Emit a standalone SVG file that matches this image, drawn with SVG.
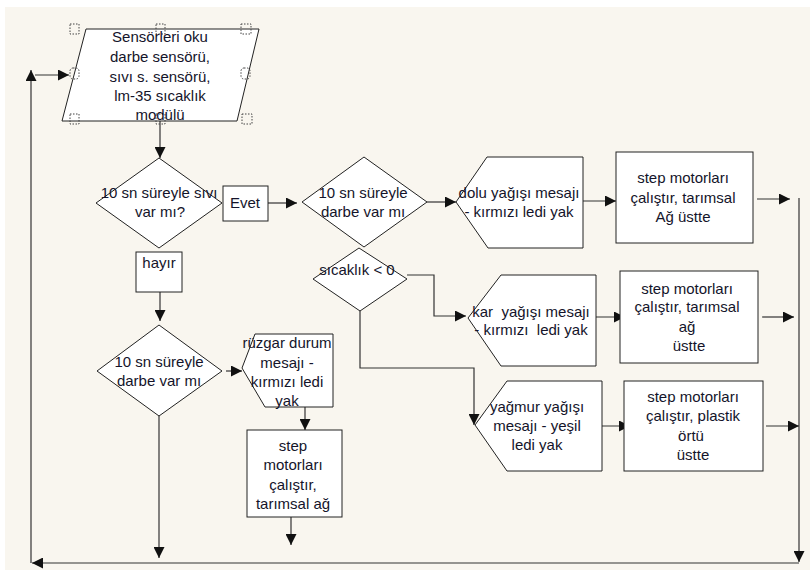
<svg xmlns="http://www.w3.org/2000/svg" width="810" height="570" viewBox="0 0 810 570">
<defs>
<marker id="ah" markerUnits="userSpaceOnUse" markerWidth="12" markerHeight="11" refX="11" refY="5.5" orient="auto">
<path d="M0,0 L11,5.5 L0,11 z" fill="#111"/>
</marker>
<style>
.shape{fill:#fff;stroke:#222;stroke-width:1}
.conn{fill:none;stroke:#333;stroke-width:1.2}
.arr{marker-end:url(#ah)}
.t{font-family:"Liberation Sans",Arial,sans-serif;font-size:15px;fill:#14142a;text-anchor:middle;white-space:pre}
.h{fill:none;stroke:#444;stroke-width:1;stroke-dasharray:1.5,1.5}
</style>
</defs>
<rect x="0" y="0" width="810" height="570" fill="#fff"/>
<rect x="5" y="7" width="805" height="563" fill="#f9f6ef"/>

<g id="connectors">
<line class="conn arr" x1="160" y1="121" x2="160" y2="158"/>
<line class="conn arr" x1="31" y1="563" x2="31" y2="70"/>
<line class="conn arr" x1="35" y1="75" x2="69" y2="75"/>
<line class="conn arr" x1="268" y1="203" x2="297" y2="203"/>
<line class="conn arr" x1="160" y1="292" x2="160" y2="321"/>
<line class="conn arr" x1="226" y1="371" x2="242" y2="371"/>
<line class="conn arr" x1="305" y1="404" x2="305" y2="430"/>
<line class="conn arr" x1="291" y1="517" x2="291" y2="545"/>
<line class="conn arr" x1="159" y1="416" x2="159" y2="558"/>
<line class="conn arr" x1="799" y1="563" x2="32" y2="563"/>
<line class="conn arr" x1="799" y1="198" x2="799" y2="562"/>
<line class="conn arr" x1="427" y1="202" x2="456" y2="202"/>
<line class="conn arr" x1="583" y1="201" x2="616" y2="201"/>
<line class="conn arr" x1="757" y1="199" x2="790" y2="199"/>
<polyline class="conn arr" points="407,275 434,275 434,316 466,316"/>
<line class="conn arr" x1="592" y1="317" x2="625" y2="317"/>
<line class="conn arr" x1="762" y1="317" x2="794" y2="317"/>
<polyline class="conn arr" points="360,311 360,368 474,368 474,425"/>
<line class="conn arr" x1="597" y1="426" x2="630" y2="426"/>
<line class="conn arr" x1="766" y1="426" x2="799" y2="426"/>
</g>

<g id="n-input">
<polygon class="shape" points="86,29 259,29 237,121 62,121"/>
<rect class="h" x="70" y="24" width="9" height="10"/>
<rect class="h" x="156" y="24" width="9" height="10"/>
<rect class="h" x="241" y="24" width="10" height="10"/>
<rect class="h" x="70" y="68" width="9" height="11" rx="3"/>
<rect class="h" x="241" y="68" width="9" height="11" rx="3"/>
<rect class="h" x="70" y="114" width="9" height="10"/>
<rect class="h" x="156" y="114" width="9" height="10"/>
<rect class="h" x="242" y="114" width="10" height="10"/>
<text class="t" x="160" y="42">Sensörleri oku</text>
<text class="t" x="160" y="62">darbe sensörü,</text>
<text class="t" x="160" y="82">sıvı s. sensörü,</text>
<text class="t" x="160" y="101">lm-35 sıcaklık</text>
<text class="t" x="160" y="120">modülü</text>
</g>

<g id="n-d1">
<polygon class="shape" points="159,158 222,203 159,248 96,203"/>
<text class="t" x="159" y="198">10 sn süreyle sıvı</text>
<text class="t" x="160" y="217">var mı?</text>
</g>

<g id="n-evet">
<rect class="shape" x="223" y="186" width="45" height="35"/>
<text class="t" x="245" y="208">Evet</text>
</g>

<g id="n-hayir">
<rect class="shape" x="136" y="252" width="46" height="40"/>
<text class="t" x="159" y="268">hayır</text>
</g>

<g id="n-d3">
<polygon class="shape" points="159,325 222,371 159,416 97,371"/>
<text class="t" x="159" y="367">10 sn süreyle</text>
<text class="t" x="159" y="386">darbe var mı</text>
</g>

<g id="n-ruzgar">
<polygon class="shape" points="255,334 333,334 333,407 265,407 242,368"/>
<text class="t" x="287" y="348">rüzgar durum</text>
<text class="t" x="287" y="368">mesajı -</text>
<text class="t" x="287" y="387">kırmızı ledi</text>
<text class="t" x="287" y="406">yak</text>
</g>

<g id="n-step4">
<rect class="shape" x="247" y="430" width="95" height="87"/>
<text class="t" x="293" y="451">step</text>
<text class="t" x="293" y="470">motorları</text>
<text class="t" x="293" y="490">çalıştır,</text>
<text class="t" x="293" y="509">tarımsal ağ</text>
</g>

<g id="n-d2">
<polygon class="shape" points="364,157 427,202 364,247 302,202"/>
<text class="t" x="363" y="198">10 sn süreyle</text>
<text class="t" x="363" y="217">darbe var mı</text>
</g>

<g id="n-dolu">
<polygon class="shape" points="487,157 583,157 583,248 488,248 456,202"/>
<text class="t" x="519" y="198">dolu yağışı mesajı</text>
<text class="t" x="519" y="217">- kırmızı ledi yak</text>
</g>

<g id="n-step1">
<rect class="shape" x="616" y="152" width="137" height="91"/>
<text class="t" x="683" y="183">step motorları</text>
<text class="t" x="683" y="203">çalıştır, tarımsal</text>
<text class="t" x="683" y="222">Ağ üstte</text>
</g>

<g id="n-d4">
<polygon class="shape" points="359,248 407,279 360,311 313,279"/>
<text class="t" x="357" y="275">sıcaklık &lt; 0</text>
</g>

<g id="n-kar">
<polygon class="shape" points="501,275 596,275 596,366 501,366 468,318"/>
<text class="t" x="531" y="317">kar  yağışı mesajı</text>
<text class="t" x="531" y="335">- kırmızı  ledi yak</text>
</g>

<g id="n-step2">
<rect class="shape" x="620" y="271" width="138" height="92"/>
<text class="t" x="687" y="294">step motorları</text>
<text class="t" x="687" y="312">çalıştır, tarımsal</text>
<text class="t" x="687" y="332">ağ</text>
<text class="t" x="689" y="351">üstte</text>
</g>

<g id="n-yagmur">
<polygon class="shape" points="507,381 602,381 602,471 507,471 475,425"/>
<text class="t" x="537" y="412">yağmur yağışı</text>
<text class="t" x="537" y="431">mesajı - yeşil</text>
<text class="t" x="537" y="450">ledi yak</text>
</g>

<g id="n-step3">
<rect class="shape" x="624" y="381" width="139" height="90"/>
<text class="t" x="693" y="402">step motorları</text>
<text class="t" x="693" y="421">çalıştır, plastik</text>
<text class="t" x="691" y="441">örtü</text>
<text class="t" x="693" y="460">üstte</text>
</g>
</svg>
